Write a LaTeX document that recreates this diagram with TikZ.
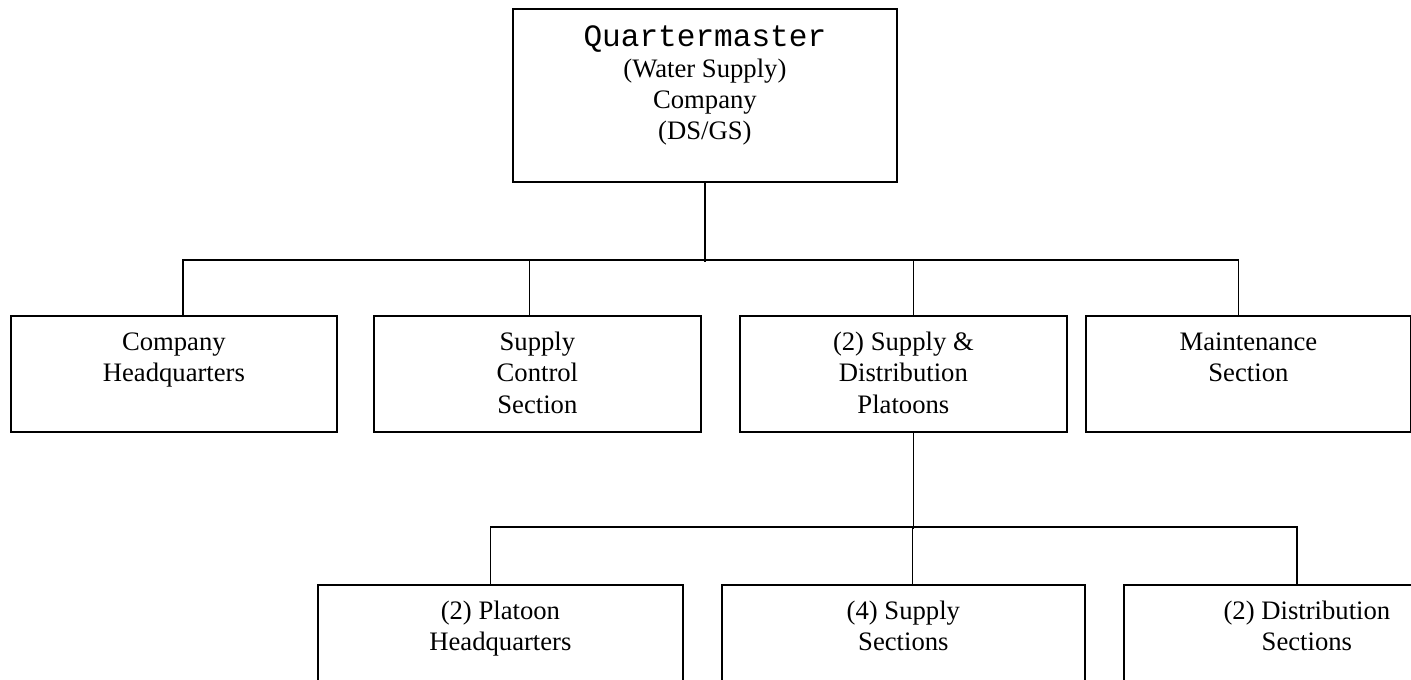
\documentclass[tikz,border=0pt]{standalone}
\usepackage{fontspec}
\setmainfont{Liberation Serif}
\setmonofont{Liberation Mono}
\usetikzlibrary{calc}
\begin{document}
\begin{tikzpicture}[x=0.45pt, y=-0.45pt, line width=0.8pt,
	unit/.style 2 args={draw, anchor=north west, inner sep=0pt, minimum width=#1*0.45pt, minimum height=#2*0.45pt},
	lbl/.style={anchor=north, align=center, inner sep=0pt, yshift=-7.4pt, font=\fontsize{12pt}{14pt}\selectfont}]
	\clip (0, 0) rectangle (1411, 679);
	\node [unit={384}{173}, label={[lbl]north:{\ttfamily\fontsize{14pt}{14pt}\selectfont Quartermaster}\\(Water Supply)\\Company\\(DS/GS)}] (qm) at (512, 8) {};
	\node [unit={326}{116}, label={[lbl]north:Company\\Headquarters}] (hq) at (10, 315) {};
	\node [unit={327}{116}, label={[lbl]north:Supply\\Control\\Section}] (scs) at (373, 315) {};
	\node [unit={327}{116}, label={[lbl]north:(2) Supply \&\\Distribution\\Platoons}] (sdp) at (739, 315) {};
	\node [unit={325}{116}, label={[lbl]north:Maintenance\\Section}] (mnt) at (1085, 315) {};
	\node [unit={365}{130}, label={[lbl]north:(2) Platoon\\Headquarters}] (plhq) at (317, 584) {};
	\node [unit={363}{130}, label={[lbl]north:(4) Supply\\Sections}] (sups) at (721, 584) {};
	\node [unit={366}{130}, label={[lbl]north:(2) Distribution\\Sections}] (dist) at (1123, 584) {};
	% company level
	\draw (qm.south) -- ++(0, 79);
	\draw ($(hq.north)+(9, 0)$) -- ++(0, -55) -| ($(mnt.north)+(-10, 0)$);
	\draw ($(scs.north)+(-8, 0)$) -- ++(0, -55);
	\draw ($(sdp.north)+(10, 0)$) -- ++(0, -55);
	% platoon level
	\draw ($(sdp.south)+(10, 0)$) -- ++(0, 96);
	\draw ($(plhq.north)+(-10, 0)$) -- ++(0, -57) -| ($(dist.north)+(-10, 0)$);
	\draw ($(sups.north)+(9, 0)$) -- ++(0, -57);
\end{tikzpicture}
\end{document}
